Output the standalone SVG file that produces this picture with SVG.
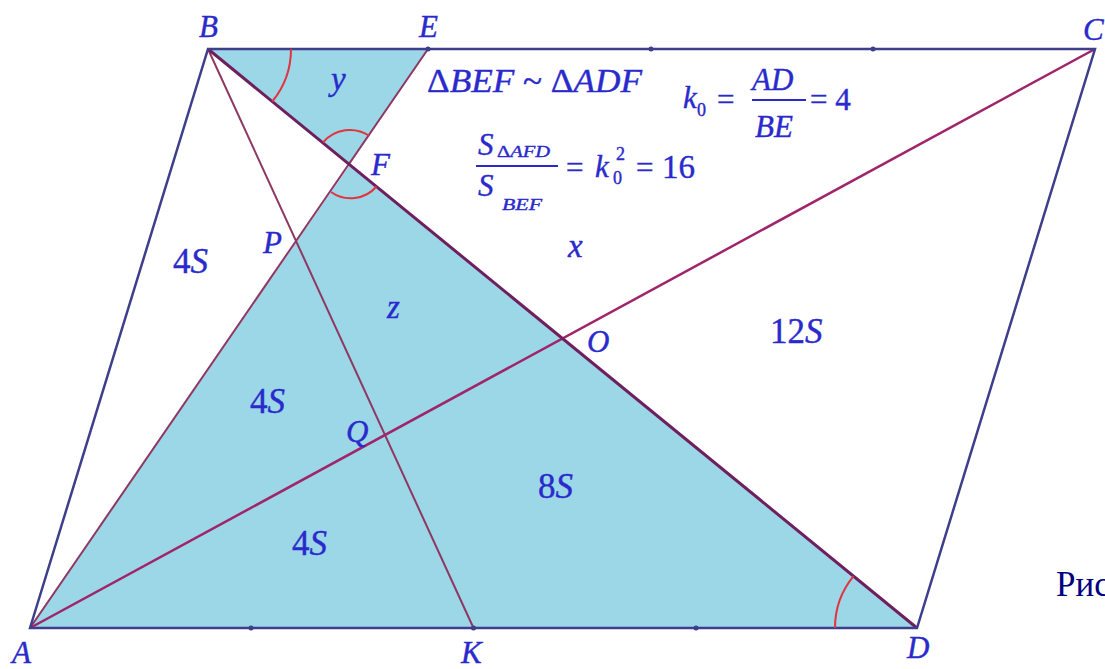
<svg xmlns="http://www.w3.org/2000/svg" width="1105" height="669" viewBox="0 0 1105 669">
<style>
.fill{fill:#9bd7e7;stroke:none}
.side{stroke:#3e3e8a;stroke-width:2.5;fill:none;stroke-linecap:round}
.diag{stroke:#6e1f5e;stroke-width:3;fill:none}
.ac{stroke:#a0246a;stroke-width:2.5;fill:none}
.cev{stroke:#8e3763;stroke-width:2;fill:none}
.arc{stroke:#e2333f;stroke-width:2;fill:none}
.dot{fill:#3e3e8a}
.lbl{font-family:"Liberation Serif",serif;font-style:italic;font-size:31px;fill:#2a2acc;stroke:#2a2acc;stroke-width:0.4}
.area{font-family:"Liberation Serif",serif;font-style:italic;font-size:35px;fill:#2a2acc;stroke:#2a2acc;stroke-width:0.4}
.up{font-style:normal}
.f{font-family:"Liberation Serif",serif;font-size:31px;fill:#2a2acc;stroke:#2a2acc;stroke-width:0.4}
.fr{stroke:#2a2acc;stroke-width:2}
</style>
<rect width="1105" height="669" fill="#ffffff"/>
<g id="shading">
<polygon class="fill" points="208,49 428,49 349.8,164.8"/>
<polygon class="fill" points="30,628 349.8,164.8 917,628"/>
</g>
<g id="connectors">
<line class="cev" x1="30" y1="628" x2="428" y2="49"/>
<line class="cev" x1="208" y1="49" x2="473.5" y2="628"/>
<line class="ac" x1="30" y1="628" x2="1095" y2="49"/>
<line class="diag" x1="208" y1="49" x2="917" y2="628"/>
<polygon class="side" points="30,628 208,49 1095,49 917,628"/>
<circle class="dot" cx="251" cy="628" r="2.5"/>
<circle class="dot" cx="696" cy="628" r="2.5"/>
<circle class="dot" cx="651" cy="49" r="2.5"/>
<circle class="dot" cx="873" cy="49" r="2.5"/>
<circle class="dot" cx="428" cy="49" r="2.5"/>
<circle class="dot" cx="473.5" cy="628" r="2.5"/>
</g>
<g id="angles">
<path class="arc" d="M291,49 A83,83 0 0 1 272.3,101.5"/>
<path class="arc" d="M835,628 A82,82 0 0 1 853.5,576.1"/>
<path class="arc" d="M323,142.5 A35,35 0 0 1 369.5,136"/>
<path class="arc" d="M331,192 A34,34 0 0 0 376.5,186.5"/>
</g>
<g id="vertex-labels">
<text class="lbl" x="199" y="37">B</text>
<text class="lbl" x="419" y="37">E</text>
<text class="lbl" x="1083" y="40">C</text>
<text class="lbl" x="12" y="663">A</text>
<text class="lbl" x="461" y="663">K</text>
<text class="lbl" x="907" y="658">D</text>
<text class="lbl" x="371" y="175">F</text>
<text class="lbl" x="263" y="253">P</text>
<text class="lbl" x="587" y="352">O</text>
<text class="lbl" x="346" y="442">Q</text>
</g>
<g id="area-labels">
<text class="area" x="331" y="90" style="font-size:33px">y</text>
<text class="area" x="568" y="257" style="font-size:33px">x</text>
<text class="area" x="387" y="318" style="font-size:33px">z</text>
<text class="area" x="173" y="273"><tspan class="up">4</tspan>S</text>
<text class="area" x="250" y="413"><tspan class="up">4</tspan>S</text>
<text class="area" x="292" y="555"><tspan class="up">4</tspan>S</text>
<text class="area" x="538" y="498"><tspan class="up">8</tspan>S</text>
<text class="area" x="770" y="343"><tspan class="up">12</tspan>S</text>
</g>
<g id="formula-similar">
<text class="lbl" x="427" y="92" style="font-size:33px" textLength="215" lengthAdjust="spacingAndGlyphs"><tspan class="up">Δ</tspan>BEF <tspan class="up">~ Δ</tspan>ADF</text>
</g>
<g id="formula-k0">
<text class="lbl" x="683" y="108">k</text>
<text class="f" x="697" y="116" style="font-size:18px">0</text>
<text class="f" x="717" y="110">=</text>
<text class="lbl" x="752" y="90">AD</text>
<line class="fr" x1="752" y1="100" x2="806" y2="100"/>
<text class="lbl" x="755" y="137">BE</text>
<text class="f" x="810" y="110">= 4</text>
</g>
<g id="formula-ratio">
<text class="lbl" x="478" y="155">S</text>
<text class="lbl" x="497" y="157" style="font-size:17px" textLength="53" lengthAdjust="spacingAndGlyphs"><tspan class="up">Δ</tspan>AFD</text>
<line class="fr" x1="476" y1="166" x2="558" y2="166"/>
<text class="lbl" x="478" y="196">S</text>
<text class="lbl" x="502" y="210" style="font-size:17px" textLength="40" lengthAdjust="spacingAndGlyphs">BEF</text>
<text class="f" x="566" y="178">=</text>
<text class="lbl" x="595" y="177">k</text>
<text class="f" x="616" y="160" style="font-size:18px">2</text>
<text class="f" x="613" y="184" style="font-size:18px">0</text>
<text class="f" x="636" y="178">=</text>
<text class="f" x="662" y="178" style="font-size:33px">16</text>
</g>
<g id="caption">
<text x="1056" y="596" style="font-family:'Liberation Serif',serif;font-size:35px;fill:#000080">Рис</text>
</g>
</svg>
